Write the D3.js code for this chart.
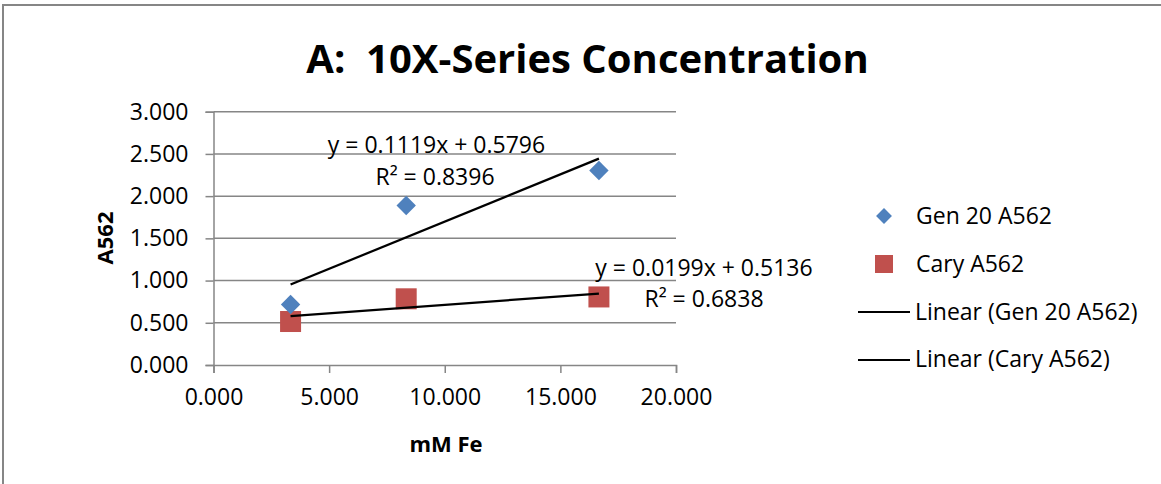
<!DOCTYPE html>
<html>
<head>
<meta charset="utf-8">
<script src="https://cdn.jsdelivr.net/npm/d3@7"></script>
<style>
  html, body { margin: 0; padding: 0; background: #fff; overflow: hidden; }
  svg { display: block; }
  text { font-family: "Open Sans", "Noto Sans", sans-serif; fill: #000; }
</style>
</head>
<body>
<svg id="chart" width="1161" height="484"></svg>
<script>
// Iron concentration (mM Fe) for the three standards
const concentrations = [3.333, 8.333, 16.667];
// Absorbance at 562 nm on each instrument
const gen20Values = [0.717, 1.889, 2.304];
const caryValues = [0.515, 0.784, 0.806];
// Linear trend fits: [slope, intercept, R²]
const gen20Fit = [0.1119, 0.5796, 0.8396];
const caryFit = [0.0199, 0.5136, 0.6838];
// Axis ticks
const xTicks = [0, 5, 10, 15, 20];
const yTicks = [0, 0.5, 1, 1.5, 2, 2.5, 3];
const seriesNames = ["Gen 20 A562", "Cary A562"];
const titleText = "A:  10X-Series Concentration";

const svg = d3.select("#chart");
const gridColor = "#868686";
const blue = "#4f81bd";
const red = "#c0504d";

// Outer chart frame
svg.append("rect")
  .attr("x", 3).attr("y", 5)
  .attr("width", 1300).attr("height", 700)
  .attr("fill", "#fff")
  .attr("stroke", gridColor).attr("stroke-width", 2);

const x = d3.scaleLinear().domain([0, 20]).range([213.5, 676]);
const y = d3.scaleLinear().domain([0, 3]).range([365, 111.7]);

// Horizontal gridlines
svg.append("g")
  .selectAll("line")
  .data(yTicks.filter(d => d > 0))
  .join("line")
  .attr("x1", x(0)).attr("x2", x(20))
  .attr("y1", d => y(d)).attr("y2", d => y(d))
  .attr("stroke", gridColor).attr("stroke-width", 1.5);

// Y axis
const yAxis = svg.append("g")
  .attr("transform", `translate(${x(0)},0)`)
  .call(d3.axisLeft(y).tickValues(yTicks).tickFormat(d3.format(".3f")).tickSize(8).tickPadding(17));
// X axis
const xAxis = svg.append("g")
  .attr("transform", `translate(0,${y(0)})`)
  .call(d3.axisBottom(x).tickValues(xTicks).tickFormat(d3.format(".3f")).tickSize(8).tickPadding(16));

[yAxis, xAxis].forEach(g => {
  g.select(".domain").attr("stroke", gridColor).attr("stroke-width", 1.5);
  g.selectAll(".tick line").attr("stroke", gridColor).attr("stroke-width", 1.5);
  g.selectAll(".tick text")
    .style("font-family", "'Open Sans', sans-serif")
    .style("font-size", "23px")
    .attr("fill", "#000");
});

// Trend lines over the data range
const trend = fit => [
  [d3.min(concentrations), fit[1] + fit[0] * d3.min(concentrations)],
  [d3.max(concentrations), fit[1] + fit[0] * d3.max(concentrations)]
];
const lineGen = d3.line().x(d => x(d[0])).y(d => y(d[1]));

// Cary points (squares)
svg.append("g")
  .selectAll("rect")
  .data(concentrations.map((c, i) => [c, caryValues[i]]))
  .join("rect")
  .attr("x", d => x(d[0]) - 10.5).attr("y", d => y(d[1]) - 10.5)
  .attr("width", 21).attr("height", 21)
  .attr("fill", red);

// Gen 20 points (diamonds)
const diamond = d3.symbol().type(d3.symbolDiamond2).size(240);
svg.append("g")
  .selectAll("path")
  .data(concentrations.map((c, i) => [c, gen20Values[i]]))
  .join("path")
  .attr("d", diamond)
  .attr("transform", d => `translate(${x(d[0])},${y(d[1])})`)
  .attr("fill", blue);

[gen20Fit, caryFit].forEach(fit => {
  svg.append("path")
    .datum(trend(fit))
    .attr("d", lineGen)
    .attr("fill", "none")
    .attr("stroke", "#000")
    .attr("stroke-width", 2.25);
});

// Trend equations
const eqText = fit => `y = ${fit[0].toFixed(4)}x + ${fit[1].toFixed(4)}`;
const r2Text = fit => `R² = ${fit[2].toFixed(4)}`;
const labels = [
  { t: eqText(gen20Fit), cx: 436.5, by: 153 },
  { t: r2Text(gen20Fit), cx: 435, by: 185 },
  { t: eqText(caryFit), cx: 704, by: 276 },
  { t: r2Text(caryFit), cx: 704, by: 307 }
];
svg.append("g")
  .selectAll("text")
  .data(labels)
  .join("text")
  .attr("x", d => d.cx).attr("y", d => d.by)
  .attr("text-anchor", "middle")
  .style("font-size", "23px")
  .text(d => d.t);

// Title (keeps the double space after the colon)
svg.append("text")
  .attr("x", 587.5).attr("y", 73)
  .attr("text-anchor", "middle")
  .style("font-size", "40px").style("font-weight", "bold")
  .style("white-space", "pre")
  .text(titleText);

// Axis titles
svg.append("text")
  .attr("x", 446).attr("y", 452)
  .attr("text-anchor", "middle")
  .style("font-size", "22px").style("font-weight", "bold")
  .text("mM Fe");
svg.append("text")
  .attr("transform", "translate(113,238) rotate(-90)")
  .attr("text-anchor", "middle")
  .style("font-size", "22px").style("font-weight", "bold")
  .text("A562");

// Legend
const legend = svg.append("g");
legend.append("path")
  .attr("d", d3.symbol().type(d3.symbolDiamond2).size(160))
  .attr("transform", "translate(884,216)")
  .attr("fill", blue);
legend.append("rect")
  .attr("x", 875).attr("y", 255).attr("width", 18).attr("height", 18)
  .attr("fill", red);
[312, 360].forEach(yy => legend.append("line")
  .attr("x1", 858).attr("x2", 910).attr("y1", yy).attr("y2", yy)
  .attr("stroke", "#000").attr("stroke-width", 2));
const legendItems = [
  { t: seriesNames[0], x: 916, by: 224 },
  { t: seriesNames[1], x: 916, by: 272 },
  { t: `Linear (${seriesNames[0]})`, x: 915, by: 320 },
  { t: `Linear (${seriesNames[1]})`, x: 915, by: 367 }
];
legend.selectAll("text")
  .data(legendItems)
  .join("text")
  .attr("x", d => d.x).attr("y", d => d.by)
  .style("font-size", "23px")
  .text(d => d.t);
</script>
</body>
</html>
